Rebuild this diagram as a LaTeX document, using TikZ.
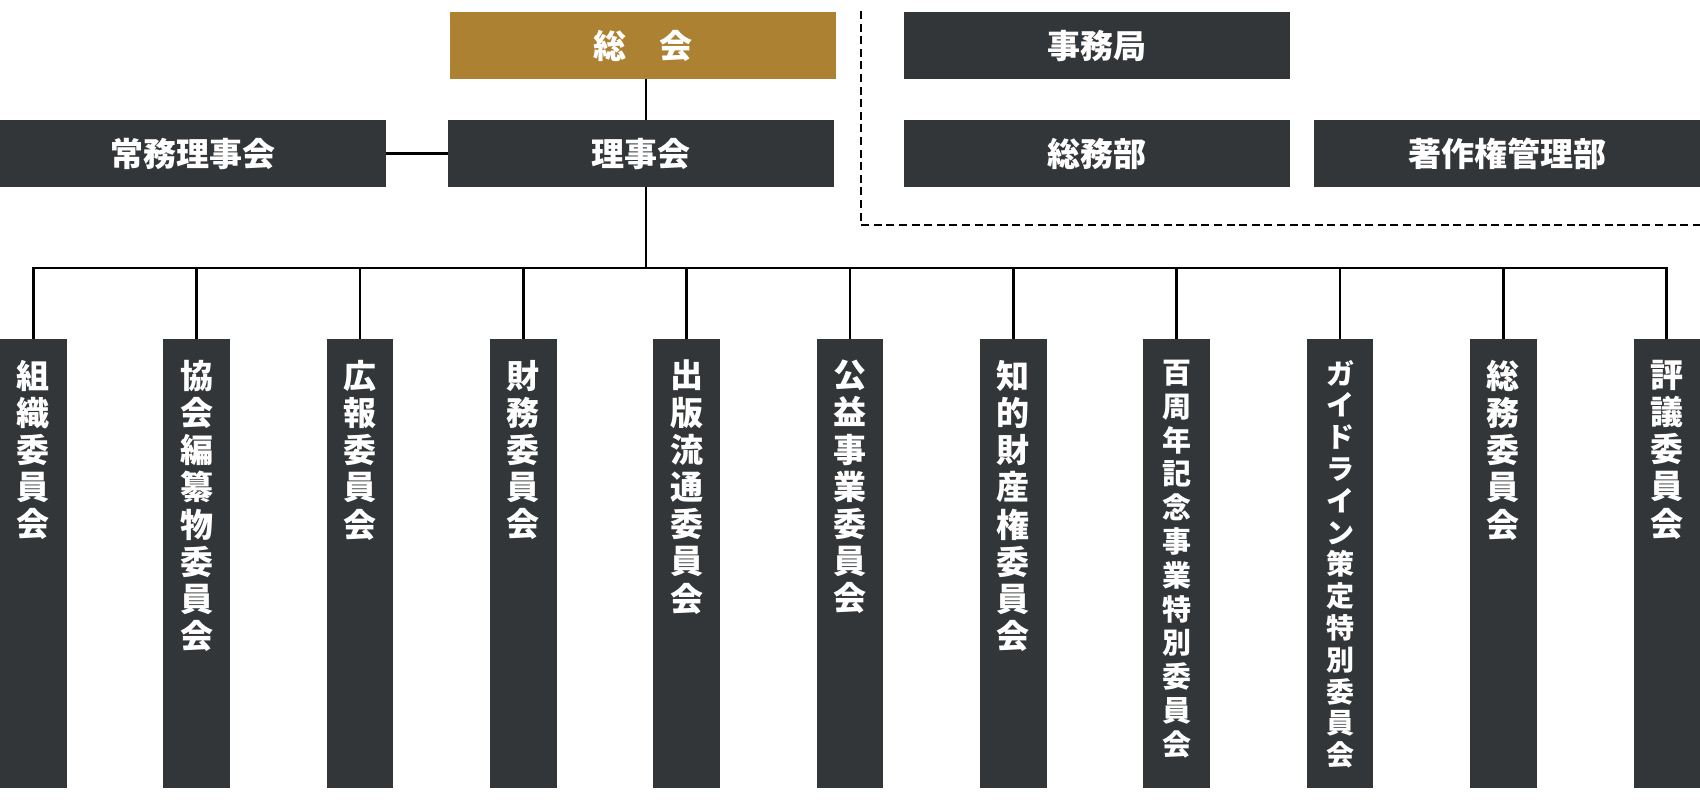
\documentclass[tikz,border=0pt]{standalone}
\usepackage{fontspec}
\newfontfamily\jpfont{Noto Sans CJK JP}
\usetikzlibrary{positioning}
\definecolor{boxgray}{HTML}{323638}
\definecolor{boxgold}{HTML}{AC8232}

\begin{document}
\begin{tikzpicture}[x=0.5pt,y=-0.5pt,every node/.style={outer sep=0pt},
 org/.style={fill=boxgray,text=white,inner sep=0pt,minimum width=193pt,
 minimum height=33.5pt,font=\jpfont\bfseries\fontsize{16.5}{18}\selectfont},
 comm/.style={fill=boxgray,inner sep=0pt,minimum width=33.25pt,minimum height=224.5pt},
 link/.style={line width=1.3pt},
 office/.style={line width=1pt,dash pattern=on 4pt off 2.3pt}]

\useasboundingbox (0,0) rectangle (1700,800);

% board
\node[org,anchor=north west] (joumu) at (0,120) {常務理事会};
\node[org,right=31pt of joumu] (riji) {理事会};
\node[org,fill=boxgold,anchor=south,xshift=1pt] (sokai) at ([yshift=20.5pt]riji.north) {総　会};

% secretariat
\node[org,anchor=north west] (jimu) at (904,12) {事務局};
\node[org,anchor=north west] (soumubu) at (904,120) {総務部};
\node[org,right=12pt of soumubu] (chosaku) {著作権管理部};

\coordinate (bus) at ([xshift=2.5pt,yshift=-40.5pt]riji.south);

% committees
\foreach \n/\name/\fs/\ls in {0/{組\\織\\委\\員\\会}/16.5/18.6,
 1/{協\\会\\編\\纂\\物\\委\\員\\会}/16.5/18.6,
 2/{広\\報\\委\\員\\会}/16.5/18.6,
 3/{財\\務\\委\\員\\会}/16.5/18.6,
 4/{出\\版\\流\\通\\委\\員\\会}/16.5/18.6,
 5/{公\\益\\事\\業\\委\\員\\会}/16.5/18.6,
 6/{知\\的\\財\\産\\権\\委\\員\\会}/16.5/18.6,
 7/{百\\周\\年\\記\\念\\事\\業\\特\\別\\委\\員\\会}/14.5/16.9,
 8/{ガ\\イ\\ド\\ラ\\イ\\ン\\策\\定\\特\\別\\委\\員\\会}/14/15.9,
 9/{総\\務\\委\\員\\会}/16.5/18.6,
 10/{評\\議\\委\\員\\会}/16.5/18.6}{
 \node[comm,anchor=north west] (c\n) at (\n*163.35,339) {};
 \node[anchor=north,inner sep=0pt,align=center,text=white,
 font=\jpfont\bfseries\fontsize{\fs}{\ls}\selectfont] (t\n) at ([yshift=-10.5pt]c\n.north) {\name};
 \draw[link] (c\n.north) -- (c\n.north |- bus);
}

\draw[link] ([xshift=2.5pt]riji.north |- sokai.south) -- ([xshift=2.5pt]riji.north);
\draw[link] (joumu) -- (riji);
\draw[link] ([xshift=2.5pt]riji.south) -- (bus);
\draw[link] (c0.north) |- (c10.north |- bus) -- (c10.north);

\coordinate (ofctop) at (861,11);
\coordinate (ofcend) at (1700,225);
\draw[office] (ofctop) |- (ofcend);
\end{tikzpicture}
\end{document}
